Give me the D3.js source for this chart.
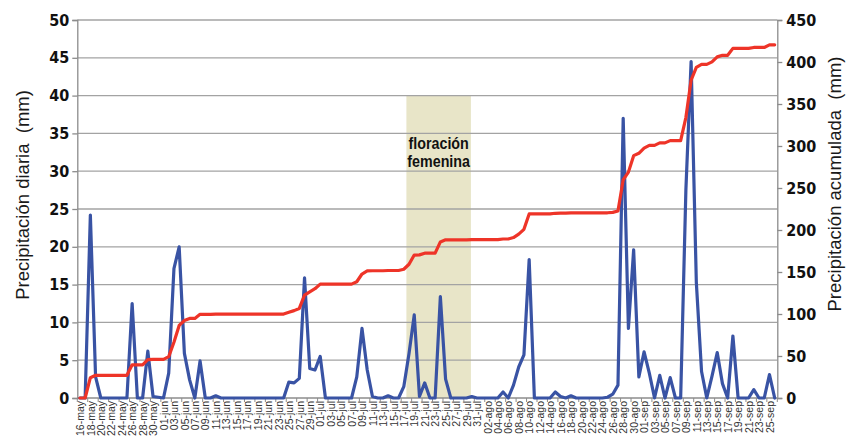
<!DOCTYPE html>
<html>
<head>
<meta charset="utf-8">
<script src="https://cdn.jsdelivr.net/npm/d3@7"></script>
<style>
  html, body { margin: 0; padding: 0; background: #fff; }
  svg { display: block; }
  .pre { white-space: pre; }
</style>
</head>
<body>
<svg id="chart" width="858" height="439"></svg>
<script>
// ---------------- DATA ----------------
const monthNames = ["ene","feb","mar","abr","may","jun","jul","ago","sep","oct","nov","dic"];
const firstDay = new Date(2012, 4, 16);   // 16-may
const lastDayExcl = new Date(2012, 8, 27); // through 26-sep
const categories = d3.timeDay.range(firstDay, lastDayExcl).map(d => d3.timeFormat("%d")(d) + "-" + monthNames[d.getMonth()]);

// daily precipitation (mm), one value per day from 16-may to 26-sep
const dailyPrecip = [
  0, 0, 24.2, 2.8, 0, 0, 0, 0, 0, 0,            // 16-may .. 25-may
  12.5, 0, 0, 6.2, 0.2, 0.1, 0, 3.3, 17.1, 20.0, // 26-may .. 04-jun
  5.9, 2.4, 0, 4.9, 0, 0, 0.3, 0, 0, 0,          // 05-jun .. 14-jun
  0, 0, 0, 0, 0, 0, 0, 0, 0, 0,                  // 15-jun .. 24-jun
  2.1, 2.0, 2.6, 15.9, 3.9, 3.7, 5.5, 0, 0, 0,   // 25-jun .. 04-jul
  0, 0, 0, 2.8, 9.2, 3.7, 0.2, 0, 0, 0.3,        // 05-jul .. 14-jul
  0, 0, 1.5, 5.9, 11.0, 0.2, 2.0, 0, 0, 13.4,    // 15-jul .. 24-jul
  2.5, 0, 0, 0, 0, 0.2, 0, 0, 0, 0,              // 25-jul .. 03-ago
  0, 0.8, 0, 1.7, 4.1, 5.7, 18.3, 0, 0, 0,       // 04-ago .. 13-ago
  0, 0.8, 0.2, 0, 0.3, 0, 0, 0, 0, 0,            // 14-ago .. 23-ago
  0, 0.1, 0.5, 1.7, 37.0, 9.2, 19.6, 2.8, 6.1, 3.3, // 24-ago .. 02-sep
  0, 3.0, 0, 2.7, 0, 0, 27.5, 44.5, 15.3, 3.5,   // 03-sep .. 12-sep
  0, 2.9, 6.0, 1.9, 0, 8.2, 0, 0, 0, 1.1,        // 13-sep .. 22-sep
  0, 0, 3.1, 0                                   // 23-sep .. 26-sep
];

// accumulated precipitation (mm)
const accumPrecip = [
  0, 0, 24.2, 27.0, 27.0, 27.0, 27.0, 27.0, 27.0, 27.0,
  39.5, 39.5, 39.5, 45.7, 45.9, 46.0, 46.0, 49.3, 66.4, 86.4,
  92.3, 94.7, 94.7, 99.6, 99.6, 99.6, 99.9, 99.9, 99.9, 99.9,
  99.9, 99.9, 99.9, 99.9, 99.9, 99.9, 99.9, 99.9, 99.9, 99.9,
  102.0, 104.0, 106.6, 122.5, 126.4, 130.1, 135.6, 135.6, 135.6, 135.6,
  135.6, 135.6, 135.6, 138.4, 147.6, 151.3, 151.5, 151.5, 151.5, 151.8,
  151.8, 151.8, 153.3, 159.2, 170.2, 170.4, 172.4, 172.4, 172.4, 185.8,
  188.3, 188.3, 188.3, 188.3, 188.3, 188.5, 188.5, 188.5, 188.5, 188.5,
  188.5, 189.3, 189.3, 191.0, 195.1, 200.8, 219.1, 219.1, 219.1, 219.1,
  219.1, 219.9, 220.1, 220.1, 220.4, 220.4, 220.4, 220.4, 220.4, 220.4,
  220.4, 220.5, 221.0, 222.7, 259.7, 268.9, 288.5, 291.3, 297.4, 300.7,
  300.7, 303.7, 303.7, 306.4, 306.4, 306.4, 333.9, 378.4, 393.7, 397.2,
  397.2, 400.1, 406.1, 408.0, 408.0, 416.2, 416.2, 416.2, 416.2, 417.3,
  417.3, 417.3, 420.4, 420.4
];

const leftTicks = [0, 5, 10, 15, 20, 25, 30, 35, 40, 45, 50];
const rightTicks = [0, 50, 100, 150, 200, 250, 300, 350, 400, 450];
const leftTitle = "Precipitación diaria  (mm)";
const rightTitle = "Precipitación acumulada  (mm)";
const floweringLabel = ["floración", "femenina"];
const floweringStartDay = "17-jul";
const floweringEndDay = "29-jul";
const floweringTop = 40;

// ---------------- LAYOUT ----------------
const svg = d3.select("#chart");
const L = 77.3, R = 777.3, T = 20, B = 398;
const n = categories.length;

const x = d3.scaleLinear().domain([-0.5, n - 0.5]).range([L, R]);
const yL = d3.scaleLinear().domain([0, 50]).range([B, T]);
const yR = d3.scaleLinear().domain([0, 450]).range([B, T]);

const condBold = "'Liberation Sans Narrow','Arial Narrow','DejaVu Sans Condensed',sans-serif";
const sans = "'Liberation Sans',Arial,sans-serif";
const gridColor = "#a3a3a3";
const axisColor = "#8c8c8c";

// flowering band
const fs = categories.indexOf(floweringStartDay);
const fe = categories.indexOf(floweringEndDay);
const bx0 = x(fs + 0.5), bx1 = x(fe + 0.85);
svg.append("rect")
  .attr("x", bx0).attr("y", yL(floweringTop))
  .attr("width", bx1 - bx0).attr("height", yL(0) - yL(floweringTop))
  .attr("fill", "#e8e5c8");

// gridlines
svg.append("g").selectAll("line").data(leftTicks.filter(d => d > 0)).join("line")
  .attr("x1", L).attr("x2", R)
  .attr("y1", d => yL(d)).attr("y2", d => yL(d))
  .attr("stroke", gridColor).attr("stroke-width", 1.3);

// left axis
const gl = svg.append("g").attr("transform", `translate(${L},0)`)
  .call(d3.axisLeft(yL).tickValues(leftTicks).tickSize(5).tickPadding(3));
// right axis
const gr = svg.append("g").attr("transform", `translate(${R},0)`)
  .call(d3.axisRight(yR).tickValues(rightTicks).tickSize(5).tickPadding(4));
[gl, gr].forEach(g => {
  g.select(".domain").attr("stroke", axisColor).attr("stroke-width", 1.3);
  g.selectAll(".tick line").attr("stroke", axisColor).attr("stroke-width", 1.3);
  g.selectAll("text").attr("font-family", condBold).attr("font-weight", "bold")
    .attr("font-size", 16).attr("fill", "#111");
});

// bottom axis
const evenIdx = d3.range(0, n, 2);
const gb = svg.append("g").attr("transform", `translate(0,${B})`)
  .call(d3.axisBottom(x).tickValues(evenIdx).tickSize(0).tickFormat(i => categories[i]));
gb.select(".domain").remove();
gb.selectAll(".tick text")
  .attr("transform", "rotate(-90)")
  .attr("text-anchor", "end")
  .attr("x", -3).attr("y", 0).attr("dy", "0.35em")
  .attr("font-family", sans)
  .attr("font-size", 10.5).attr("fill", "#333");
svg.append("line").attr("x1", L).attr("x2", R).attr("y1", B).attr("y2", B)
  .attr("stroke", axisColor).attr("stroke-width", 1.3);
svg.append("g").selectAll("line").data(d3.range(0, n + 1, 2)).join("line")
  .attr("x1", d => x(d - 0.5)).attr("x2", d => x(d - 0.5))
  .attr("y1", B).attr("y2", B + 4)
  .attr("stroke", axisColor).attr("stroke-width", 1);

// flowering label (horizontally condensed bold)
const cx = (bx0 + bx1) / 2;
floweringLabel.forEach((t, k) => {
  svg.append("text")
    .attr("transform", `translate(${cx},${149 + k * 17.8}) scale(0.83,1)`)
    .attr("text-anchor", "middle")
    .attr("font-family", sans).attr("font-weight", "bold")
    .attr("font-size", 17.2).attr("fill", "#111")
    .text(t);
});

// series
const lineDaily = d3.line().x((d, i) => x(i)).y(d => yL(d));
const lineAcc = d3.line().x((d, i) => x(i)).y(d => yR(d));
svg.append("path").datum(dailyPrecip).attr("d", lineDaily)
  .attr("fill", "none").attr("stroke", "#3953a4").attr("stroke-width", 3.2)
  .attr("stroke-linejoin", "round").attr("stroke-linecap", "round");
svg.append("path").datum(accumPrecip).attr("d", lineAcc)
  .attr("fill", "none").attr("stroke", "#ee3428").attr("stroke-width", 3.2)
  .attr("stroke-linejoin", "round").attr("stroke-linecap", "round");

// axis titles
svg.append("text").attr("class", "pre")
  .attr("transform", `translate(28.5,${(88 + 302) / 2}) rotate(-90)`)
  .attr("text-anchor", "middle")
  .attr("font-family", sans)
  .attr("font-size", 18.5).attr("fill", "#1a1a1a")
  .text(leftTitle);
svg.append("text").attr("class", "pre")
  .attr("transform", `translate(840.5,${(55 + 313) / 2}) rotate(-90)`)
  .attr("text-anchor", "middle")
  .attr("font-family", sans)
  .attr("font-size", 18.5).attr("fill", "#1a1a1a")
  .text(rightTitle);
</script>
</body>
</html>
